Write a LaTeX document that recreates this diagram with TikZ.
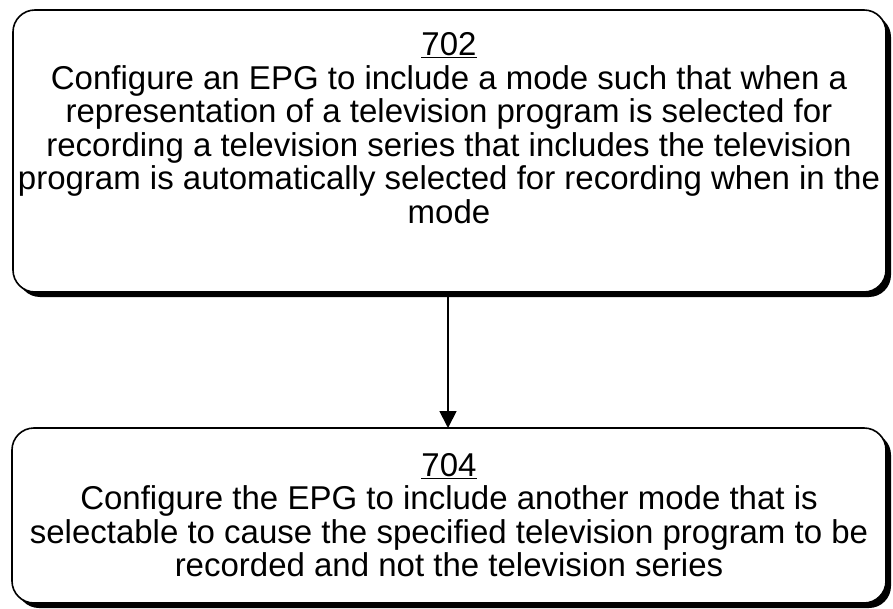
\documentclass[tikz,border=0pt]{standalone}
\usepackage{fontspec}
\setmainfont{Liberation Sans}
\usetikzlibrary{arrows.meta}
\begin{document}
\begin{tikzpicture}[x=1pt,y=-1pt,
  box/.style={draw=black, line width=1.6pt, rounded corners=22pt, fill=white},
  shadow/.style={fill=black, rounded corners=22pt},
  txt/.style={align=center, font=\fontsize{33}{33.5}\selectfont, inner sep=0pt}]
\useasboundingbox (0,0) rectangle (893,609);
% box 1
\fill[shadow] (18,15) rectangle (891,297);
\draw[box] (13,10) rectangle (886,292);
\node[txt] (t1) at (449,128) {\underline{702}\\Configure an EPG to include a mode such that when a\\representation of a television program is selected for\\recording a television series that includes the television\\program is automatically selected for recording when in the\\mode};
% box 2
\fill[shadow] (17,433) rectangle (891,608);
\draw[box] (12,428) rectangle (886,603);
\node[txt] (t2) at (449,515) {\underline{704}\\Configure the EPG to include another mode that is\\selectable to cause the specified television program to be\\recorded and not the television series};
\coordinate (a1) at (448,297);
\coordinate (a2) at (448,428);
\draw[line width=1.8pt, -{Triangle[width=17pt,length=17pt]}] (a1) -- (a2);
\end{tikzpicture}
\end{document}
